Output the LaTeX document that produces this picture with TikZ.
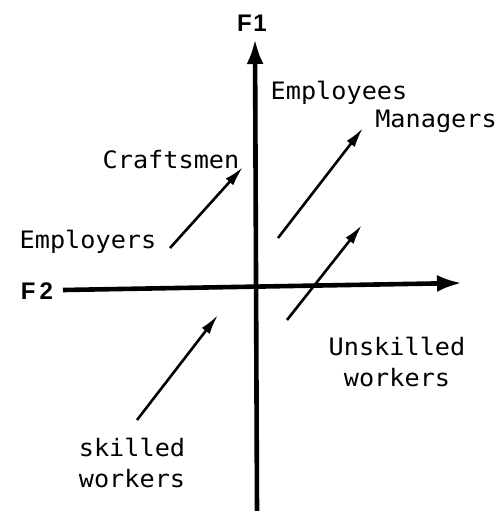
\documentclass[tikz,border=0pt]{standalone}
\usepackage{fontspec}
\usetikzlibrary{arrows.meta}
\newfontfamily\labfont[FakeStretch=1.05]{DejaVu Sans Mono}
\newfontfamily\axfont{Liberation Sans}
\tikzset{
  lab/.style={inner sep=0pt, font=\labfont\fontsize{24}{31}\selectfont, align=center},
  axlab/.style={inner sep=0pt, font=\axfont\bfseries\fontsize{24}{28}\selectfont},
  axis/.style={line width=4.6pt, -{Latex[length=25pt,width=17pt]}},
  move/.style={line width=2.6pt, -{Latex[length=20pt,width=10pt]}}
}
\begin{document}
\begin{tikzpicture}[x=1pt, y=-1pt]
  \useasboundingbox (0,0) rectangle (502,511);

  % Axes
  \coordinate (f1-foot) at (257,511);
  \coordinate (f1-top) at (255,39);
  \coordinate (f2-left) at (63,290);
  \coordinate (f2-right) at (462,283);
  \draw[axis] (f1-foot) -- (f1-top);
  \draw[axis] (f2-left) -- (f2-right);
  \node[axlab] (f1) at (252,23) {F\kern1.5pt1};
  \node[axlab] (f2) at (37,291) {F\kern4pt2};

  % Category labels
  \node[lab, anchor=base] (employees) at (339,99) {Employees};
  \node[lab, anchor=base] (managers) at (436,127) {Managers};
  \node[lab, anchor=base] (craftsmen) at (171,168) {Craftsmen};
  \node[lab, anchor=base] (employers) at (88,248) {Employers};
  \node[lab] (unskilled) at (397,362) {Unskilled\\workers};
  \node[lab] (skilled) at (132,463) {skilled\\workers};

  % Moves
  \coordinate (employers-tail) at (170,248);
  \coordinate (craftsmen-tip) at (243,167);
  \coordinate (employees-tail) at (278,238);
  \coordinate (managers-tip) at (363,128);
  \coordinate (unskilled-tail) at (287,320);
  \coordinate (unskilled-tip) at (362,225);
  \coordinate (skilled-tail) at (137,420);
  \coordinate (skilled-tip) at (218,315);
  \draw[move] (employers-tail) -- (craftsmen-tip);
  \draw[move] (employees-tail) -- (managers-tip);
  \draw[move] (unskilled-tail) -- (unskilled-tip);
  \draw[move] (skilled-tail) -- (skilled-tip);
\end{tikzpicture}
\end{document}
